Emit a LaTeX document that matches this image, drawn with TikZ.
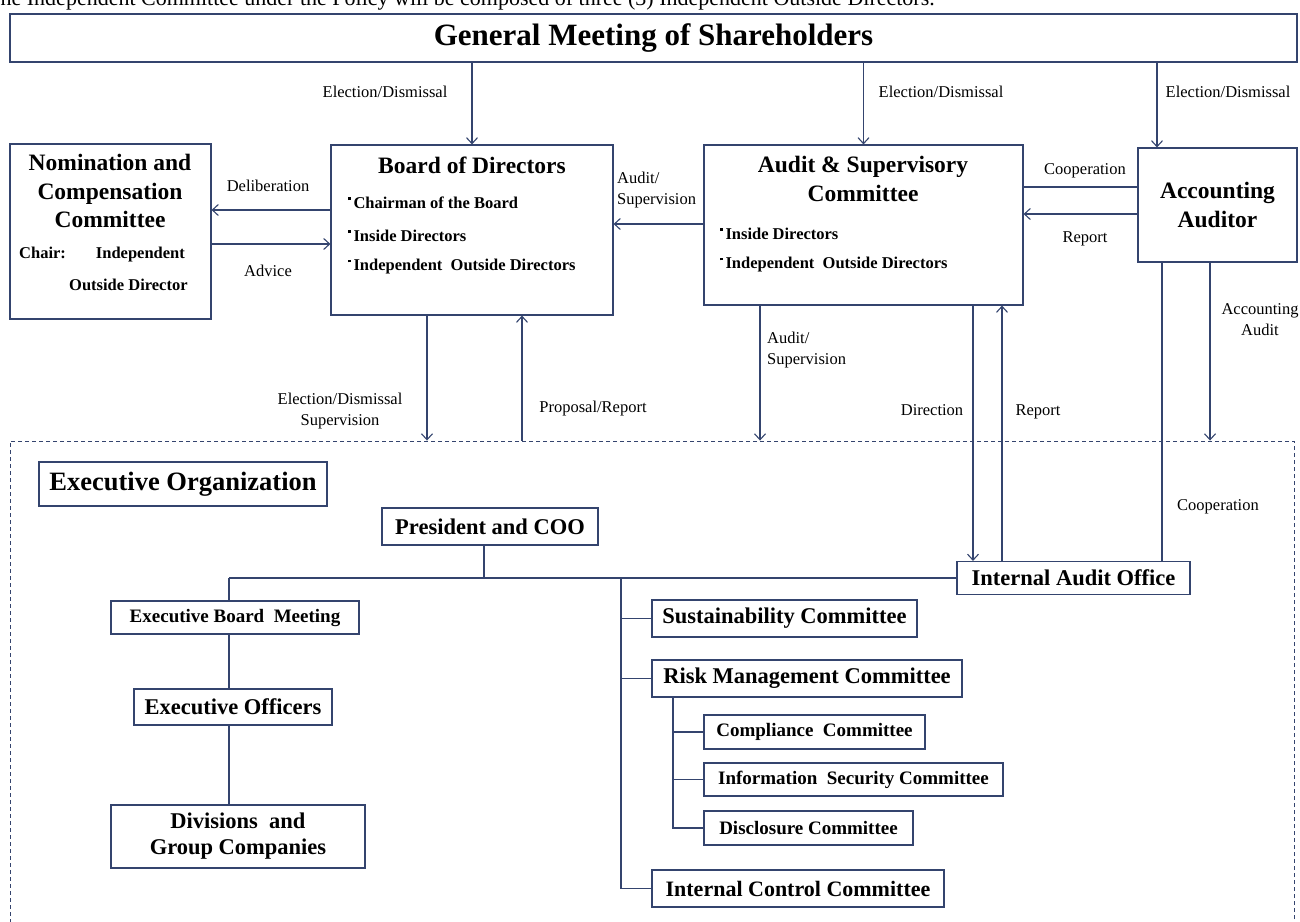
\documentclass[tikz,border=0pt]{standalone}
\usepackage{fontspec}
\setmainfont{Liberation Serif}
\usetikzlibrary{arrows.meta}
\definecolor{lc}{RGB}{52,68,110}
\newcommand{\bul}{\raisebox{0.52em}{\rule{2.8pt}{2.8pt}}\hspace{2.5pt}}
\newcommand{\fs}[2]{\fontsize{#1}{#2}\selectfont}
\begin{document}
\begin{tikzpicture}[x=1pt,y=-1pt,
 box/.style={draw=lc,line width=1.1pt,inner sep=0pt,font=\bfseries\fs{22.5}{27},align=center},
 lbl/.style={inner sep=0pt,font=\fs{16.5}{21},align=center},
 itm/.style={inner sep=0pt,anchor=west,font=\bfseries\fs{16.5}{20}},
 head/.style={inner sep=0pt,font=\bfseries\fs{23.5}{28.5},align=center},
 arr/.style={draw=lc,line width=1.1pt,-{Straight Barb[length=6pt,width=11pt]}},
 ln/.style={draw=lc,line width=1.1pt}]
\useasboundingbox (0,0) rectangle (1300,921);
\clip (0,0) rectangle (1300,921);

% cropped note at top
\node[anchor=base west,inner sep=0pt,font=\fs{22}{26}] (note) at (-13,5) {The Independent Committee under the Policy will be composed of three (3) Independent Outside Directors.};

% top level
\node[box,minimum width=1287pt,minimum height=48pt,font=\bfseries\fs{31}{36}] (GMS) at (653.5,38) {General Meeting of Shareholders};

\node[box,minimum width=201pt,minimum height=175pt] (Nom) at (110.5,231.5) {};
\node[head] (NomT) at (110,191) {Nomination and\\Compensation\\Committee};
\node[itm] (Chair) at (19,255) {Chair:\hspace{30pt}Independent};
\node[itm] (Chair2) at (69,285) {Outside Director};

\node[box,minimum width=282pt,minimum height=170pt] (Board) at (472,230) {};
\node[head] (BoardT) at (472,165) {Board of Directors};
\node[itm] (b1) at (348,203) {\bul Chairman of the Board};
\node[itm] (b2) at (348,236) {\bul Inside Directors};
\node[itm] (b3) at (348,267) {\bul Independent\ \ Outside Directors};

\node[box,minimum width=319pt,minimum height=160pt] (ASC) at (863.5,225) {};
\node[head] (ASCT) at (863,179) {Audit \& Supervisory\\Committee};
\node[itm] (a1) at (720,234) {\bul Inside Directors};
\node[itm] (a2) at (720,265) {\bul Independent\ \ Outside Directors};

\node[box,minimum width=159pt,minimum height=114pt,font=\bfseries\fs{23.5}{28.5}] (AA) at (1217.5,205) {Accounting\\Auditor};

% executive organization
\node[draw=lc,line width=0.9pt,dash pattern=on 4pt off 3pt,minimum width=1284pt,minimum height=489pt,inner sep=0pt] (EX) at (652,685.5) {};
\node[box,minimum width=288pt,minimum height=44pt,font=\bfseries\fs{26.5}{30}] (EO0) at (183,484) {Executive Organization};
\node[box,minimum width=216pt,minimum height=37pt] (Pres) at (490,526.5) {President and COO};
\node[box,minimum width=248pt,minimum height=33pt,font=\bfseries\fs{19}{23}] (EBM) at (235,617.5) {Executive Board\ \ Meeting};
\node[box,minimum width=198pt,minimum height=36pt] (EOf) at (233,707) {Executive Officers};
\node[box,minimum width=254pt,minimum height=63pt,font=\bfseries\fs{22.5}{26}] (Div) at (238,836.5) {Divisions\ \ and\\Group Companies};
\node[box,minimum width=233pt,minimum height=33pt] (IAO) at (1073.5,578) {Internal Audit Office};
\node[box,minimum width=265pt,minimum height=37pt] (Sus) at (784.5,618.5) {Sustainability Committee};
\node[box,minimum width=310pt,minimum height=37pt] (RMC) at (807,678.5) {Risk Management Committee};
\node[box,minimum width=221pt,minimum height=34pt,font=\bfseries\fs{19}{23}] (Comp) at (814.5,732) {Compliance\ \ Committee};
\node[box,minimum width=299pt,minimum height=33pt,font=\bfseries\fs{19}{23}] (ISC) at (853.5,779.5) {Information\ \ Security Committee};
\node[box,minimum width=209pt,minimum height=34pt,font=\bfseries\fs{19}{23}] (Disc) at (808.5,828) {Disclosure Committee};
\node[box,minimum width=292pt,minimum height=37pt,font=\bfseries\fs{22}{26}] (ICC) at (798,888.5) {Internal Control Committee};

% coordinates for connector columns
\coordinate (cAA) at (1157,0);
\coordinate (cBd) at (427,0);
\coordinate (cBu) at (522,0);
\coordinate (cAd) at (760,0);
\coordinate (cDir) at (973,0);
\coordinate (cRep) at (1002,0);
\coordinate (cCoop) at (1162,0);
\coordinate (cAcc) at (1210,0);
\coordinate (tL) at (229,578);
\coordinate (pj) at (484,578);
\coordinate (tR) at (621,578);
\coordinate (rL) at (673,0);

% top connectors
\draw[arr] (GMS.south -| Board.north) -- (Board.north);
\draw[arr] (GMS.south -| ASC.north) -- (ASC.north);
\draw[arr] (GMS.south -| cAA) -- (AA.north -| cAA);
\draw[arr] (Board.west |- 0,210) -- (Nom.east |- 0,210);
\draw[arr] (Nom.east |- 0,244) -- (Board.west |- 0,244);
\draw[arr] (ASC.west |- 0,224) -- (Board.east |- 0,224);
\draw[ln] (AA.west |- 0,187) -- (ASC.east |- 0,187);
\draw[arr] (AA.west |- 0,214) -- (ASC.east |- 0,214);

\draw[arr] (Board.south -| cBd) -- (EX.north -| cBd);
\draw[arr] (EX.north -| cBu) -- (Board.south -| cBu);
\draw[arr] (ASC.south -| cAd) -- (EX.north -| cAd);
\draw[arr] (ASC.south -| cDir) -- (IAO.north -| cDir);
\draw[arr] (IAO.north -| cRep) -- (ASC.south -| cRep);
\draw[ln] (AA.south -| cCoop) -- (IAO.north -| cCoop);
\draw[arr] (AA.south -| cAcc) -- (EX.north -| cAcc);

% executive tree
\draw[ln] (Pres.south -| pj) -- (pj);
\draw[ln] (tL) -- (IAO.west);
\draw[ln] (tL) -- (EBM.north -| tL);
\draw[ln] (EBM.south -| tL) -- (EOf.north -| tL);
\draw[ln] (EOf.south -| tL) -- (Div.north -| tL);
\draw[ln] (tR) |- (ICC.west);
\draw[ln] (tR |- Sus.west) -- (Sus.west);
\draw[ln] (tR |- RMC.west) -- (RMC.west);
\draw[ln] (RMC.south -| rL) |- (Disc.west);
\draw[ln] (rL |- Comp.west) -- (Comp.west);
\draw[ln] (rL |- ISC.west) -- (ISC.west);

% labels
\node[lbl] (l1) at (385,92) {Election/Dismissal};
\node[lbl] (l2) at (941,92) {Election/Dismissal};
\node[lbl] (l3) at (1228,92) {Election/Dismissal};
\node[lbl] (l4) at (268,186) {Deliberation};
\node[lbl] (l5) at (268,271) {Advice};
\node[lbl,anchor=west,align=left] (l6) at (617,190) {Audit/\\Supervision};
\node[lbl] (l7) at (1085,171) {Cooperation};
\node[lbl] (l8) at (1085,239) {Report};
\node[lbl] (l9) at (340,411) {Election/Dismissal\\Supervision};
\node[lbl] (l10) at (593,409) {Proposal/Report};
\node[lbl,anchor=west,align=left] (l11) at (767,350) {Audit/\\Supervision};
\node[lbl] (l12) at (932,410) {Direction};
\node[lbl] (l13) at (1038,412) {Report};
\node[lbl] (l14) at (1260,320) {Accounting\\Audit};
\node[lbl] (l15) at (1218,507) {Cooperation};
\end{tikzpicture}
\end{document}
